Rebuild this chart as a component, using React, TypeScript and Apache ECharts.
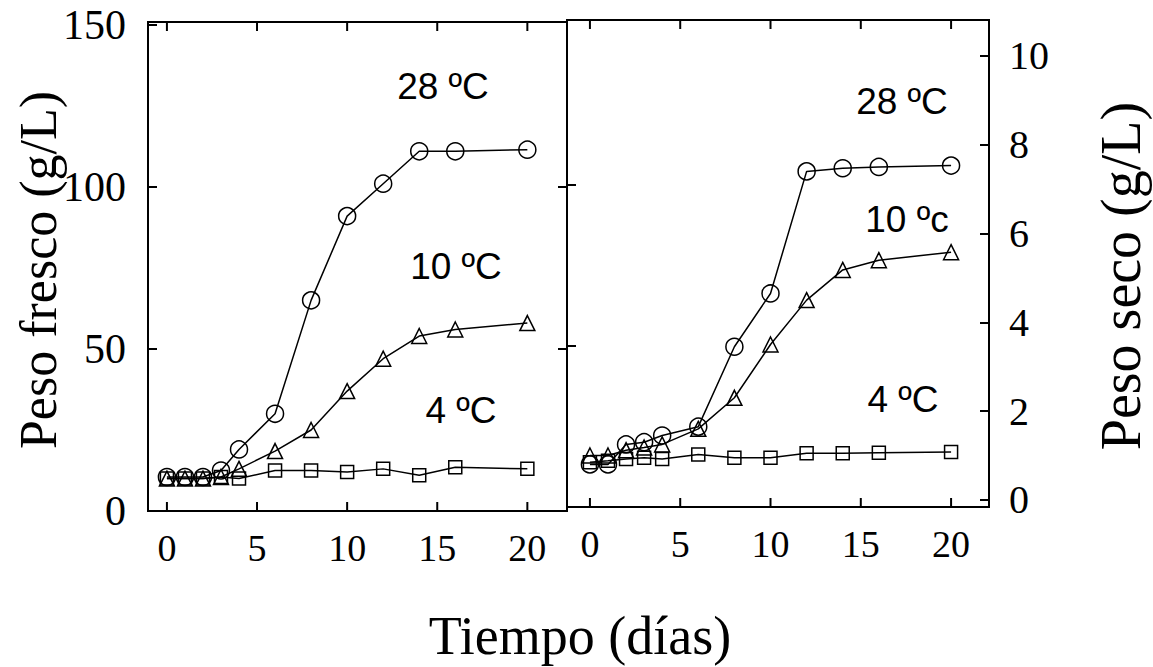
import React, { useEffect, useRef } from "react";
import * as echarts from "echarts";

// Days of sampling
const days = [0, 1, 2, 3, 4, 6, 8, 10, 12, 14, 16, 20];

// Peso fresco (g/L)
const fresh28 = [10.5, 10.5, 10.5, 12.5, 19, 30, 65, 91, 101, 111, 111, 111.5];
const fresh10 = [10, 10, 10, 10.5, 13, 18.5, 25, 37, 47, 54, 56, 58];
const fresh4 = [10, 10, 10, 10.5, 10, 12.5, 12.5, 12, 13, 11, 13.5, 13];

// Peso seco (g/L)
const dry28 = [0.8, 0.8, 1.25, 1.3, 1.45, 1.65, 3.45, 4.65, 7.4, 7.47, 7.5, 7.53];
const dry10 = [1.0, 1.0, 1.12, 1.18, 1.25, 1.6, 2.3, 3.5, 4.5, 5.18, 5.4, 5.58];
const dry4 = [0.85, 0.88, 0.92, 0.95, 0.92, 1.02, 0.95, 0.95, 1.05, 1.05, 1.06, 1.08];

// Tick labels
const xTicks = [0, 5, 10, 15, 20];
const leftTicks = [0, 50, 100, 150];
const rightTicks = [0, 2, 4, 6, 8, 10];

const SERIF = "'Liberation Serif', 'Times New Roman', 'DejaVu Serif', serif";
const SANS = "'Liberation Sans', Arial, 'DejaVu Sans', sans-serif";

// Panel geometry (pixels) and axis ranges
const P0 = { left: 148, top: 22, width: 419, height: 489, xmin: -1.05, xmax: 22.2 };
const P1 = { left: 567, top: 20, width: 422, height: 487, xmin: -1.27, xmax: 22.1 };

const pairs = (vals: number[]) => days.map((d, i) => [d, vals[i]]);

export default function App() {
  const ref = useRef<HTMLDivElement>(null);

  useEffect(() => {
    if (!ref.current) return;
    const chart = echarts.init(ref.current, undefined, { renderer: "svg" });

    const tickStyle = { show: true, inside: true, length: 9, lineStyle: { color: "#000", width: 2 } };
    const noLine = { show: false, onZero: false };

    const mainX = (grid: number, p: typeof P0) => ({
      type: "value",
      gridIndex: grid,
      position: "bottom",
      min: p.xmin,
      max: p.xmax,
      splitLine: { show: false },
      axisLine: noLine,
      axisTick: { show: false },
      axisLabel: {
        fontFamily: SERIF,
        fontSize: 38,
        color: "#000",
        margin: 18,
        customValues: xTicks,
        showMinLabel: true,
        showMaxLabel: true,
      },
    });

    const lineSeries = (
      name: string,
      vals: number[],
      symbol: string,
      size: number,
      xi: number,
      yi: number
    ) => ({
      name,
      type: "line",
      xAxisIndex: xi,
      yAxisIndex: yi,
      data: pairs(vals),
      symbol,
      symbolSize: size,
      showAllSymbol: true,
      lineStyle: { color: "#000", width: 1.5 },
      itemStyle: { color: "rgba(255,255,255,0)", borderColor: "#000", borderWidth: 1.5 },
      emphasis: { disabled: true },
      z: 3,
    });

    const tempLabel = (text: string, x: number, y: number) => ({
      type: "text",
      x,
      y,
      style: {
        text,
        font: `37px ${SANS}`,
        fill: "#000",
        align: "center",
        verticalAlign: "middle",
        textAlign: "center",
        textVerticalAlign: "middle",
      },
    });

    const vTitle = (text: string, x: number, y: number, size: number) => ({
      type: "text",
      x,
      y,
      rotation: Math.PI / 2,
      style: {
        text,
        font: `${size}px ${SERIF}`,
        fill: "#000",
        align: "center",
        verticalAlign: "middle",
        textAlign: "center",
        textVerticalAlign: "middle",
      },
    });

    chart.setOption({
      animation: false,
      backgroundColor: "#fff",
      grid: [
        { left: P0.left, top: P0.top, width: P0.width, height: P0.height, show: true, borderColor: "#000", borderWidth: 2, backgroundColor: "transparent" },
        { left: P1.left, top: P1.top, width: P1.width, height: P1.height, show: true, borderColor: "#000", borderWidth: 2, backgroundColor: "transparent" },
      ],
      xAxis: [mainX(0, P0), mainX(1, P1)],
      yAxis: [
        {
          type: "value",
          gridIndex: 0,
          position: "left",
          min: 0,
          max: 150.9,
          splitLine: { show: false },
          axisLine: noLine,
          axisTick: { ...tickStyle, customValues: leftTicks },
          axisLabel: { fontFamily: SERIF, fontSize: 42, color: "#000", margin: 22, customValues: leftTicks, showMinLabel: true, showMaxLabel: true },
        },
        {
          type: "value",
          gridIndex: 0,
          position: "right",
          min: 0,
          max: 150.9,
          splitLine: { show: false },
          axisLine: noLine,
          axisTick: { ...tickStyle, customValues: [50, 100] },
          axisLabel: { show: false, customValues: [50, 100] },
        },
        {
          type: "value",
          gridIndex: 1,
          position: "right",
          min: -0.16,
          max: 10.81,
          splitLine: { show: false },
          axisLine: noLine,
          axisTick: { ...tickStyle, customValues: rightTicks },
          axisLabel: { fontFamily: SERIF, fontSize: 40, color: "#000", margin: 20, customValues: rightTicks, showMinLabel: true, showMaxLabel: true },
        },
        {
          type: "value",
          gridIndex: 1,
          position: "left",
          min: 0,
          max: 150.9,
          splitLine: { show: false },
          axisLine: noLine,
          axisTick: { ...tickStyle, customValues: [50, 100] },
          axisLabel: { show: false, customValues: [50, 100] },
        },
      ],
      series: [
        lineSeries("Fresco 28 ºC", fresh28, "circle", 17, 0, 0),
        lineSeries("Fresco 10 ºC", fresh10, "triangle", 15, 0, 0),
        lineSeries("Fresco 4 ºC", fresh4, "rect", 13, 0, 0),
        lineSeries("Seco 28 ºC", dry28, "circle", 17, 1, 2),
        lineSeries("Seco 10 ºC", dry10, "triangle", 15, 1, 2),
        lineSeries("Seco 4 ºC", dry4, "rect", 13, 1, 2),
      ],
    });

    // x-axis ticks (inside, bottom and top), positioned on each panel's x scale
    const xPixel = (p: typeof P0, i: number, v: number): number => {
      let r: any = null;
      try {
        r = chart.convertToPixel({ gridIndex: i } as any, [v, 0] as any);
      } catch (e) {
        r = null;
      }
      if (Array.isArray(r) && typeof r[0] === "number" && isFinite(r[0])) return r[0];
      if (typeof r === "number" && isFinite(r)) return r;
      return p.left + ((v - p.xmin) / (p.xmax - p.xmin)) * p.width;
    };

    const tickLines: any[] = [];
    [P0, P1].forEach((p, i) => {
      const bottom = p.top + p.height;
      xTicks.forEach((v) => {
        const px = xPixel(p, i, v);
        tickLines.push({
          type: "line",
          shape: { x1: px, y1: bottom, x2: px, y2: bottom - 9 },
          style: { stroke: "#000", lineWidth: 2 },
          z: 10,
          silent: true,
        });
        tickLines.push({
          type: "line",
          shape: { x1: px, y1: p.top, x2: px, y2: p.top + 9 },
          style: { stroke: "#000", lineWidth: 2 },
          z: 10,
          silent: true,
        });
      });
    });

    chart.setOption({
      graphic: [
        ...tickLines,
        tempLabel("28 ºC", 443, 86),
        tempLabel("10 ºC", 456, 266),
        tempLabel("4 ºC", 461, 410),
        tempLabel("28 ºC", 902, 101),
        tempLabel("10 ºc", 907, 219),
        tempLabel("4 ºC", 903, 399),
        vTitle("Peso fresco (g/L)", 38, 270, 52),
        vTitle("Peso seco (g/L)", 1121, 276, 56),
        {
          type: "text",
          x: 580,
          y: 636,
          style: {
            text: "Tiempo (días)",
            font: `54px ${SERIF}`,
            fill: "#000",
            align: "center",
            verticalAlign: "middle",
            textAlign: "center",
            textVerticalAlign: "middle",
          },
        },
      ],
    });

    return () => chart.dispose();
  }, []);

  return (
    <div
      ref={ref}
      style={{ position: "absolute", left: 0, top: 0, width: 1153, height: 667, background: "#fff" }}
    />
  );
}
